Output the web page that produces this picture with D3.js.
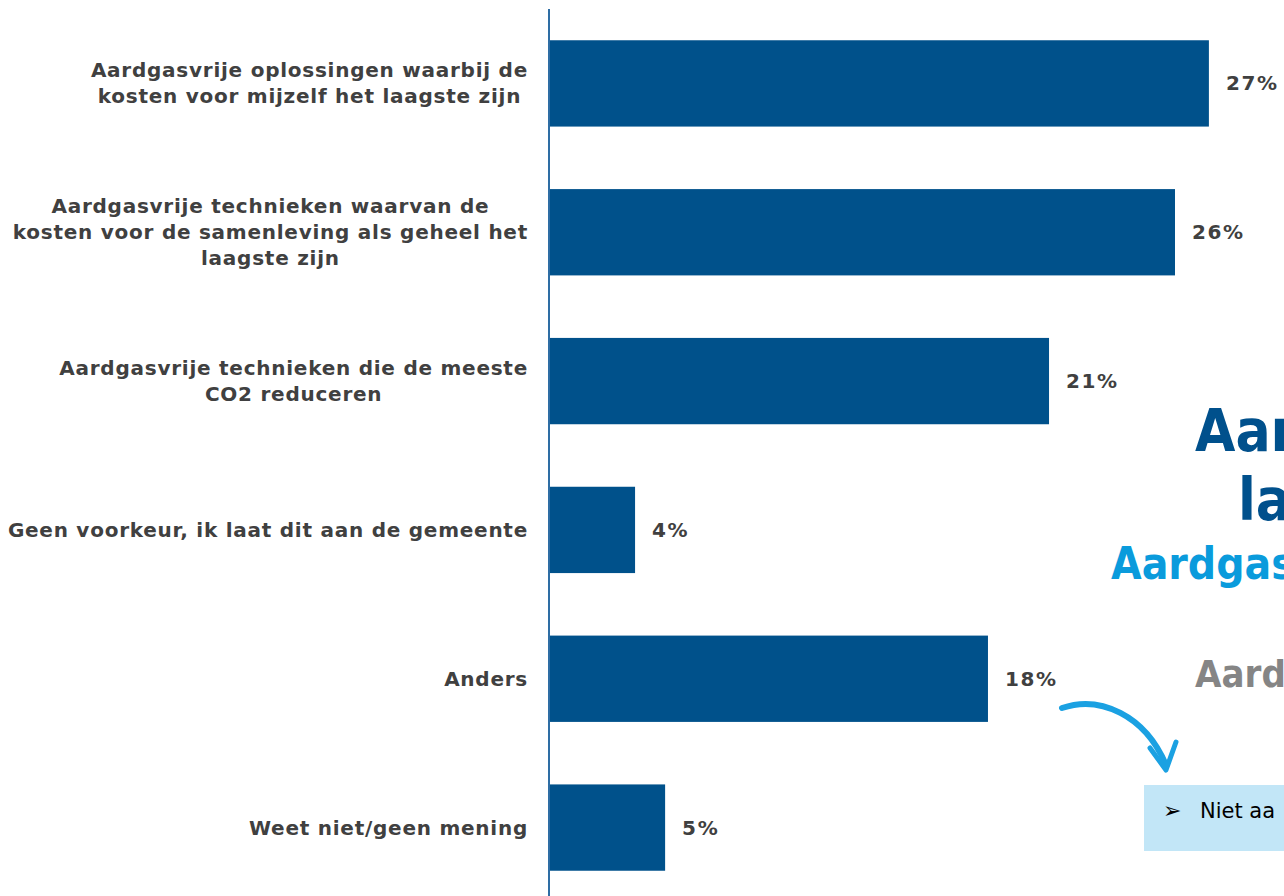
<!DOCTYPE html>
<html><head><meta charset="utf-8">
<script src="https://cdn.jsdelivr.net/npm/d3@7"></script>
<style>body{margin:0;background:#fff;overflow:hidden}</style>
</head><body>
<svg id="c" width="1284" height="896"></svg>
<script>
const categories = [
  ["Aardgasvrije oplossingen waarbij de", "kosten voor mijzelf het laagste zijn"],
  ["Aardgasvrije technieken waarvan de", "kosten voor de samenleving als geheel het", "laagste zijn"],
  ["Aardgasvrije technieken die de meeste", "CO2 reduceren"],
  ["Geen voorkeur, ik laat dit aan de gemeente"],
  ["Anders"],
  ["Weet niet/geen mening"]
];
const values = [27.45, 26.04, 20.8, 3.58, 18.26, 4.83];
const valueLabels = ["27%", "26%", "21%", "4%", "18%", "5%"];

const svg = d3.select("#c");
const x0 = 549;
const x = d3.scaleLinear().domain([0, 30]).range([x0, x0 + 30 * 24.04]);
const y = d3.scaleBand().domain(d3.range(categories.length)).range([9, 902]).paddingInner(0.42).paddingOuter(0.21);

const fontB = "'DejaVu Sans', Verdana, sans-serif";

svg.selectAll("rect.bar").data(values).join("rect")
  .attr("class", "bar")
  .attr("x", x(0)).attr("y", (d, i) => y(i))
  .attr("width", d => x(d) - x(0)).attr("height", y.bandwidth())
  .attr("fill", "#00518B");

svg.append("line").attr("x1", x0).attr("x2", x0).attr("y1", 9).attr("y2", 902)
  .attr("stroke", "#2E6DA4").attr("stroke-width", 2);

svg.selectAll("text.val").data(values).join("text")
  .attr("class", "val")
  .attr("x", d => x(d) + 17).attr("y", (d, i) => y(i) + y.bandwidth() / 2)
  .attr("dy", "0.35em")
  .attr("font-family", fontB).attr("font-weight", "bold").attr("font-size", 20)
  .attr("letter-spacing", 1.6)
  .attr("fill", "#404040")
  .text((d, i) => valueLabels[i]);

const lh = 26;
const g = svg.selectAll("text.cat").data(categories).join("text")
  .attr("class", "cat")
  .attr("font-family", fontB).attr("font-weight", "bold").attr("font-size", 20)
  .attr("letter-spacing", 0.75)
  .attr("fill", "#404040");
g.each(function(lines, i) {
  const cy = y(i) + y.bandwidth() / 2;
  const startY = cy - (lines.length - 1) * lh / 2;
  const t = d3.select(this);
  const spans = t.selectAll("tspan").data(lines).join("tspan")
    .attr("y", (d, j) => startY + j * lh).attr("dy", "0.35em").text(d => d);
  const widths = [];
  spans.each(function() { widths.push(this.getComputedTextLength()); });
  const maxW = d3.max(widths);
  const right = 528;
  spans.attr("x", right - maxW / 2).attr("text-anchor", "middle");
});

// overlapping slide decorations on the right (cut off at the slide edge, as in the reference)
const deco = svg.append("g");
const fontC = "'Liberation Sans Narrow', 'DejaVu Sans Condensed', 'Arial Narrow', sans-serif";
deco.append("text").attr("x", 1195).attr("y", 451).attr("font-family", fontC).attr("font-weight", "bold")
  .attr("font-size", 58).attr("fill", "#00508C").text("Aar");
deco.append("text").attr("x", 1238).attr("y", 520).attr("font-family", fontC).attr("font-weight", "bold")
  .attr("font-size", 58).attr("fill", "#00508C").text("la");
deco.append("text").attr("x", 1111).attr("y", 579).attr("font-family", fontC).attr("font-weight", "bold")
  .attr("font-size", 44).attr("fill", "#0A9BDC").text("Aardgas");
deco.append("text").attr("x", 1195).attr("y", 687).attr("font-family", fontC).attr("font-weight", "bold")
  .attr("font-size", 38).attr("fill", "#858585").text("Aardg");

// curved arrow
deco.append("path").attr("d", "M1062,708 C1100,695 1145,715 1166,765")
  .attr("fill", "none").attr("stroke", "#1BA1E2").attr("stroke-width", 6).attr("stroke-linecap", "round");
deco.append("path").attr("d", "M1150,748 L1166,770 L1176,742")
  .attr("fill", "none").attr("stroke", "#1BA1E2").attr("stroke-width", 5).attr("stroke-linecap", "round").attr("stroke-linejoin", "round");

deco.append("rect").attr("x", 1144).attr("y", 785).attr("width", 150).attr("height", 66).attr("fill", "#C2E6F7");
deco.append("text").attr("x", 1163).attr("y", 818).attr("font-family", fontB).attr("font-size", 22).attr("fill", "#000").text("➢");
deco.append("text").attr("x", 1200).attr("y", 818).attr("font-family", fontB).attr("font-size", 21).attr("fill", "#000").text("Niet aa");
</script>
</body></html>
